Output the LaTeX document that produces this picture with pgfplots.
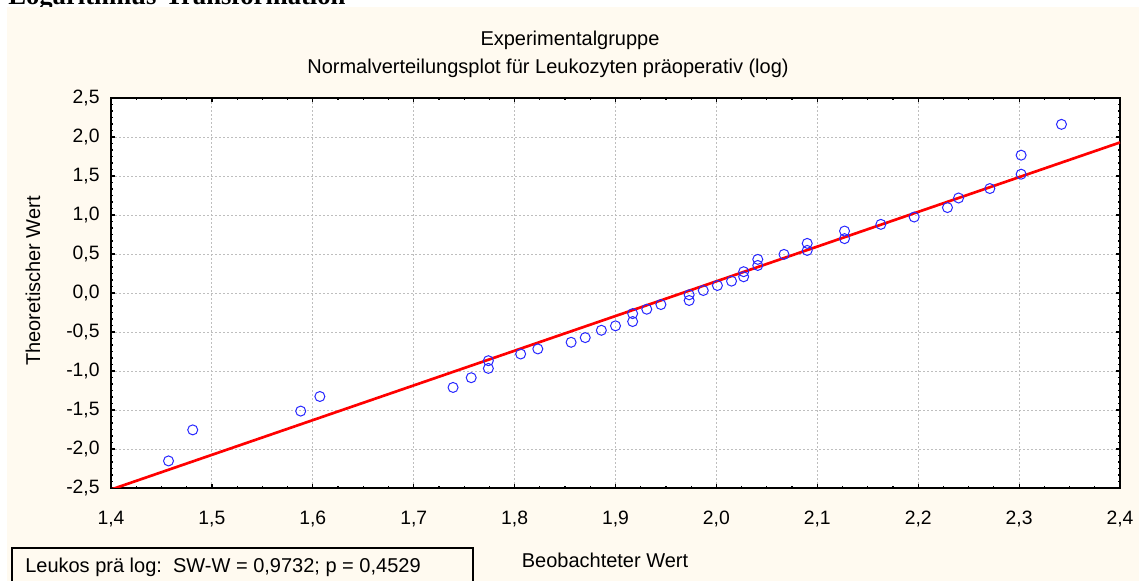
\documentclass[border=0pt]{standalone}
\usepackage{pgfplots}
\pgfplotsset{compat=1.18}
\usepackage{fontspec}
\setmainfont{Liberation Sans}
\newfontfamily\headfont{Liberation Serif}
\definecolor{cream}{RGB}{255,250,240}
\definecolor{ptblue}{RGB}{40,40,255}
\definecolor{gridgray}{RGB}{190,190,190}
\begin{document}
\begin{tikzpicture}
\path[use as bounding box] (0pt,0pt) rectangle (854.25pt,435.75pt);
\clip (0pt,0pt) rectangle (854.25pt,435.75pt);
\begin{scope}[x=0.75pt,y=0.75pt]
\fill[white] (0,0) rectangle (1139,581);
\node[anchor=base west,inner sep=0pt,font=\headfont\fontsize{20}{24}\bfseries\selectfont] at (8,576.5) {Logarithmus-Transformation};
\fill[cream] (7,0) rectangle (1139,574);
\end{scope}
\begin{axis}[
  at={(83.25pt,69.75pt)}, anchor=south west,
  scale only axis, width=756.75pt, height=292.5pt,
  xmin=1.4, xmax=2.4, ymin=-2.5, ymax=2.5,
  xtick distance=0.1, ytick distance=0.5,
  minor x tick num=3, minor y tick num=5,
  tick align=inside,
  major tick length=3pt, minor tick length=1.6pt,
  every tick/.style={black, line width=0.9pt},
  axis line style={line width=2pt},
  axis background/.style={fill=white},
  grid=major,
  major grid style={gridgray, dash pattern=on 1.6pt off 1.4pt, line width=0.7pt},
  tick label style={font=\fontsize{14.5}{17}\selectfont},
  /pgf/number format/.cd, assume math mode=true, use comma, fixed, fixed zerofill, precision=1,
  /pgfplots/.cd,
  xticklabel style={yshift=-14pt},
  yticklabel style={xshift=-5pt},
  clip=true,
]
\addplot[only marks, mark=o, mark size=3.75pt, ptblue, mark options={line width=0.75pt}] coordinates {
(1.457,-2.153) (1.481,-1.755) (1.588,-1.514) (1.607,-1.327) (1.739,-1.211)
(1.757,-1.086) (1.774,-0.967) (1.774,-0.868) (1.806,-0.782) (1.823,-0.717)
(1.856,-0.632) (1.870,-0.572) (1.886,-0.478) (1.900,-0.421) (1.917,-0.366)
(1.917,-0.264) (1.931,-0.208) (1.945,-0.148) (1.973,-0.096) (1.973,-0.023)
(1.987,0.032) (2.001,0.096) (2.015,0.152) (2.027,0.208) (2.027,0.273)
(2.041,0.353) (2.041,0.431) (2.067,0.495) (2.090,0.546) (2.090,0.636)
(2.127,0.697) (2.127,0.794) (2.163,0.880) (2.196,0.974) (2.229,1.095)
(2.240,1.218) (2.271,1.339) (2.302,1.523) (2.302,1.767) (2.342,2.162)
};
\addplot[red, line width=2pt] coordinates {(1.4,-2.52) (2.4,1.93)};
\end{axis}
\begin{scope}[x=0.75pt,y=0.75pt]
\node[font=\fontsize{15}{18}\selectfont] at (570,541) {Experimentalgruppe};
\node[font=\fontsize{15}{18}\selectfont] at (548,513) {Normalverteilungsplot für Leukozyten präoperativ (log)};
\node[font=\fontsize{15}{18}\selectfont] at (605,21) {Beobachteter Wert};
\node[font=\fontsize{15}{18}\selectfont, rotate=90] at (33,300) {Theoretischer Wert};
\draw[line width=2.2pt] (12,33) rectangle (473,-10);
\node[anchor=west, inner sep=0pt, font=\fontsize{15}{18}\selectfont] at (25,14) {Leukos prä log:\ \ SW-W = 0,9732; p = 0,4529};
\end{scope}
\end{tikzpicture}
\end{document}
